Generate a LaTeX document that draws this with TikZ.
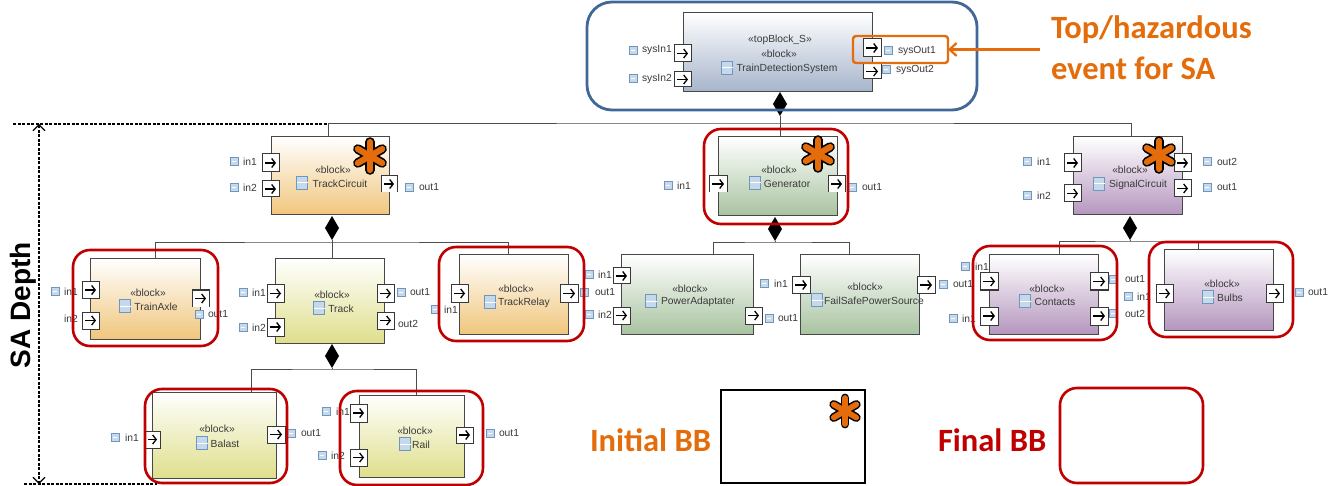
\documentclass[tikz,border=0pt]{standalone}
\usepackage{fontspec}
\setmainfont{Liberation Sans}
\newfontfamily\callout{Carlito}
\usetikzlibrary{arrows.meta,shapes.geometric,calc}
\definecolor{hazor}{HTML}{E46C0A}
\definecolor{bbred}{HTML}{C00000}
\definecolor{sysblue}{HTML}{3F6797}
\definecolor{txtgrey}{HTML}{3A3A3A}
\definecolor{cblue}{HTML}{A6B4CB}
\definecolor{cor}{HTML}{F0C67C}
\definecolor{cgreen}{HTML}{A8C3A0}
\definecolor{cpurple}{HTML}{B596BE}
\definecolor{cyel}{HTML}{DFDF8C}
\definecolor{icline}{HTML}{6E96BE}
\definecolor{icfill}{HTML}{C6D9EA}
\tikzset{
  blockbox/.style={draw=black!72,line width=1pt,inner sep=0pt,outer sep=0pt},
  portbox/.style={draw=black!78,fill=white,line width=1pt,inner sep=0pt,outer sep=0pt},
  portopen/.style={fill=white,inner sep=0pt,outer sep=0pt},
  parrow/.style={line width=1.3pt,-{Straight Barb[length=3.5pt,width=9pt]}},
  conn/.style={draw=black!70,line width=.9pt},
  slab/.style={inner sep=0pt,outer sep=0pt,text=txtgrey,font=\fontsize{10.3}{11}\selectfont},
  ticn/.style={draw=icline,fill=icfill,inner sep=0pt,outer sep=0pt,minimum width=8pt,minimum height=8pt,line width=.7pt},
  bicn/.style={draw=icline,fill=icfill,inner sep=0pt,outer sep=0pt,minimum width=11pt,minimum height=13pt,line width=.7pt},
  redbox/.style={draw=bbred,line width=2.6pt,rounded corners=17pt,inner sep=0pt,outer sep=0pt},
  comp/.style={shape=diamond,fill=black,inner sep=0pt,outer sep=0pt,minimum width=14pt,minimum height=24pt},
  bigtxt/.style={inner sep=0pt,outer sep=0pt,font=\callout\bfseries\fontsize{32.5}{36}\selectfont},
  depth/.style={draw=black,line width=1.1pt,dash pattern=on 3pt off 1.5pt},
}
\newcommand{\blk}[6]{\node[blockbox,top color=white,bottom color=#6,minimum width={(#4-#2)*1pt},minimum height={(#5-#3)*1pt}] (#1) at ({(#2+#4)/2},{(#3+#5)/2}) {};}
\newcommand{\prt}[5]{\node[portbox,minimum width={(#4-#2)*1pt},minimum height={(#5-#3)*1pt}] (#1) at ({(#2+#4)/2},{(#3+#5)/2}) {};
  \draw[parrow] ([xshift=3pt]#1.west) -- ([xshift=-3pt]#1.east);}
\newcommand{\oprt}[5]{\node[portopen,minimum width={(#4-#2)*1pt},minimum height={(#5-#3)*1pt}] (#1) at ({(#2+#4)/2},{(#3+#5)/2}) {};
  \draw[black!78,line width=1pt] (#1.south west) -- (#1.north west) -- (#1.north east) -- (#1.south east);
  \draw[parrow] ([xshift=3pt]#1.west) -- ([xshift=-3pt]#1.east);}
% name, icon x, y, text left, text
\newcommand{\lbl}[5]{\node[ticn] (#1i) at (#2,#3) {};\draw[white,line width=.9pt] ([xshift=-2.4pt]#1i.center) -- ([xshift=2.4pt]#1i.center);
  \node[slab,anchor=west] (#1t) at (#4,{#3+.5}) {#5};}
\newcommand{\lbt}[4]{\node[slab,anchor=west] (#1t) at (#2,#3) {#4};}
% name, stereotype cx, y, icon x, y2, text cx, text
\newcommand{\ttl}[7]{\node[slab] (#1s) at (#2,#3) {«block»};
  \node[bicn] (#1i) at (#4,#5) {};\draw[white,line width=1pt] (#1i.west) -- (#1i.east);
  \node[slab] (#1n) at (#6,{#5+1}) {#7};}
\newcommand{\rbx}[5]{\node[redbox,minimum width={(#4-#2)*1pt},minimum height={(#5-#3)*1pt}] (#1) at ({(#2+#4)/2},{(#3+#5)/2}) {};}
\newcommand{\astar}[4]{\coordinate (#1) at (#2,#3);
  \foreach \a in {90,30,-30}{\draw[black,line width={#4*.68pt},line cap=round] ($(#1)+(\a:#4pt)$) -- ($(#1)+(\a+180:#4pt)$);}
  \foreach \a in {90,30,-30}{\draw[hazor,line width={#4*.44pt},line cap=round] ($(#1)+(\a:#4pt)$) -- ($(#1)+(\a+180:#4pt)$);}}
\begin{document}
\begin{tikzpicture}[x=1pt,y=-1pt]
\useasboundingbox (0,0) rectangle (1338,486);
\fill[white] (0,0) rectangle (1338,486);

% ---------- blocks
\blk{top}{683}{13}{872}{92}{cblue}
\blk{tc}{271}{137}{389}{215}{cor}
\blk{gen}{718}{137}{837}{216}{cgreen}
\blk{sc}{1073}{137}{1182}{215}{cpurple}
\blk{ta}{90}{259}{200}{339}{cor}
\blk{trk}{275}{259}{384}{343}{cyel}
\blk{tr}{459}{255}{568}{334}{cor}
\blk{pa}{621}{255}{753}{334}{cgreen}
\blk{fs}{800}{255}{919}{334}{cgreen}
\blk{con}{989}{255}{1098}{334}{cpurple}
\blk{bul}{1164}{250}{1273}{330}{cpurple}
\blk{bal}{152}{392}{276}{478}{cyel}
\blk{rail}{359}{395}{464}{477}{cyel}

% ---------- composition diamonds and connectors
\node[comp] (d0) at (780,104) {};
\node[comp] (d1) at (332,228) {};
\node[comp] (d2) at (775,229) {};
\node[comp] (d3) at (1130,228) {};
\node[comp] (d4) at (332,356) {};

\coordinate (b0) at (780,123);
\coordinate (b1) at (332,242);
\coordinate (b2) at (775,242);
\coordinate (b3) at (1130,241);
\coordinate (b4) at (332,369);

\coordinate (dtc) at (328,137);
\coordinate (dsc) at (1131,137);
\coordinate (dgen) at (780,137);
\draw[conn] (d0.south) -- (dgen);
\draw[conn] (dtc) |- (b0) -| (dsc);

\coordinate (dta) at (155,259);
\coordinate (dtrk) at (332,259);
\coordinate (dtr) at (508,255);
\draw[conn] (d1.south) -- (dtrk);
\draw[conn] (dta) |- (b1) -| (dtr);

\coordinate (dpa) at (713,255);
\coordinate (dfs) at (849,255);
\draw[conn] (d2.south) -- (b2);
\draw[conn] (dpa) |- (b2) -| (dfs);

\coordinate (dcon) at (1059,255);
\coordinate (dbul) at (1198,250);
\draw[conn] (d3.south) -- (b3);
\draw[conn] (dcon) |- (b3) -| (dbul);

\coordinate (dbal) at (251,392);
\coordinate (drail) at (416,395);
\draw[conn] (d4.south) -- (b4);
\draw[conn] (dbal) |- (b4) -| (drail);

% ---------- block titles
\node[slab] (tops) at (780,40) {«topBlock\_S»};
\node[slab] (tops2) at (779,54) {«block»};
\node[bicn] (topi) at (727,68) {};\draw[white,line width=1pt] (topi.west) -- (topi.east);
\node[slab] (topn) at (787,69) {TrainDetectionSystem};
\ttl{tc}{333}{170}{302}{183}{340}{TrackCircuit}
\ttl{gen}{779}{170}{755}{183}{787}{Generator}
\ttl{sc}{1130}{170}{1099}{184}{1138}{SignalCircuit}
\ttl{ta}{148}{293}{125}{306}{156}{TrainAxle}
\ttl{trk}{332}{295}{319}{308}{341}{Track}
\ttl{tr}{516}{289}{490}{302}{524}{TrackRelay}
\ttl{pa}{690}{289}{651}{301}{698}{PowerAdaptater}
\ttl{fs}{865}{287}{817}{300}{874}{FailSafePowerSource}
\ttl{con}{1047}{289}{1025}{301}{1055}{Contacts}
\ttl{bul}{1222}{284}{1208}{297}{1230}{Bulbs}
\ttl{bal}{217}{429}{202}{443}{225}{Balast}
\ttl{rail}{415}{431}{405}{444}{421}{Rail}

% ---------- port labels
\lbl{l01}{633}{50}{642}{sysIn1}
\lbl{l02}{633}{78}{642}{sysIn2}
\lbl{l03}{888}{50}{898}{sysOut1}
\lbl{l04}{886}{69}{896}{sysOut2}
\lbl{l05}{234}{161}{243}{in1}
\lbl{l06}{234}{187}{243}{in2}
\lbl{l07}{409}{187}{419}{out1}
\lbl{l08}{668}{185}{677}{in1}
\lbl{l09}{852}{187}{862}{out1}
\lbl{l10}{1027}{161}{1037}{in1}
\lbl{l11}{1027}{195}{1037}{in2}
\lbl{l12}{1207}{161}{1217}{out2}
\lbl{l13}{1207}{187}{1217}{out1}
\lbl{l14}{55}{291}{64}{in1}
\lbt{l15}{64}{319}{in2}
\lbl{l16}{199}{314}{208}{out1}
\lbl{l17}{243}{292}{252}{in1}
\lbl{l18}{243}{327}{252}{in2}
\lbl{l19}{401}{292}{410}{out1}
\lbt{l20}{398}{324}{out2}
\lbl{l21}{435}{309}{444}{in1}
\lbl{l22}{584}{292}{595}{out1}
\lbl{l23}{589}{274}{598}{in1}
\lbl{l24}{589}{314}{598}{in2}
\lbl{l25}{769}{318}{778}{out1}
\lbl{l26}{764}{283}{774}{in1}
\lbl{l27}{943}{284}{953}{out1}
\lbl{l28}{965}{266}{975}{in1}
\lbl{l29}{953}{318}{962}{in1}
\lbl{l30}{1113}{279}{1125}{out1}
\lbl{l31}{1113}{313}{1125}{out2}
\lbl{l32}{1128}{296}{1137}{in1}
\lbl{l33}{1299}{292}{1308}{out1}
\lbl{l34}{115}{437}{125}{in1}
\lbl{l35}{291}{433}{301}{out1}
\lbl{l36}{326}{411}{336}{in1}
\lbl{l37}{322}{455}{331}{in2}
\lbl{l38}{490}{433}{499}{out1}

% ---------- ports
\prt{p01}{674}{45}{691}{62}
\prt{p02}{674}{72}{691}{87}
\prt{p03}{863}{39}{881}{57}
\prt{p04}{863}{64}{881}{79}
\prt{p05}{262}{154}{279}{172}
\prt{p06}{262}{181}{279}{197}
\oprt{p07}{381}{176}{397}{192}
\oprt{p08}{709}{176}{727}{192}
\oprt{p09}{828}{176}{845}{192}
\prt{p10}{1064}{154}{1081}{172}
\prt{p11}{1064}{185}{1081}{202}
\prt{p12}{1174}{154}{1191}{172}
\prt{p13}{1174}{180}{1191}{197}
\prt{p14}{82}{282}{99}{298}
\prt{p15}{82}{312}{99}{329}
\oprt{p16}{192}{290}{209}{307}
\prt{p17}{267}{285}{284}{302}
\prt{p18}{267}{318}{284}{336}
\prt{p19}{377}{285}{394}{302}
\prt{p20}{377}{312}{394}{329}
\prt{p21}{451}{285}{468}{302}
\prt{p22}{560}{285}{578}{302}
\prt{p23}{613}{268}{630}{284}
\prt{p24}{613}{307}{630}{324}
\prt{p25}{745}{307}{762}{324}
\prt{p26}{792}{277}{810}{293}
\prt{p27}{917}{277}{935}{293}
\prt{p28}{980}{273}{998}{290}
\prt{p29}{980}{307}{998}{325}
\prt{p30}{1090}{273}{1108}{290}
\prt{p31}{1090}{307}{1108}{325}
\prt{p32}{1156}{285}{1173}{302}
\prt{p33}{1266}{285}{1283}{302}
\prt{p34}{145}{431}{160}{448}
\prt{p35}{267}{426}{285}{443}
\prt{p36}{350}{404}{367}{422}
\prt{p37}{350}{449}{367}{466}
\prt{p38}{456}{427}{473}{443}

% ---------- asterisks
\astar{s1}{370}{156}{14}
\astar{s2}{818}{154}{14}
\astar{s3}{1159}{155}{14}

% ---------- bounding outlines
\node[draw=sysblue,line width=2.8pt,rounded corners=25pt,inner sep=0pt,outer sep=0pt,minimum width=390pt,minimum height=108pt] (sa) at (782,56) {};
\rbx{r1}{704}{129}{848}{224}
\rbx{r2}{73}{250}{218}{346}
\rbx{r3}{439}{247}{584}{341}
\rbx{r4}{973}{246}{1117}{340}
\rbx{r5}{1149}{242}{1293}{337}
\rbx{r6}{145}{389}{287}{483}
\rbx{r7}{340}{391}{483}{485}

% ---------- top event callout
\node[draw=hazor,line width=2.4pt,rounded corners=3pt,inner sep=0pt,outer sep=0pt,minimum width=95pt,minimum height=27pt] (haz) at (900.5,49.5) {};
\coordinate (hazend) at (1040,49.5);
\draw[hazor,line width=2.2pt,-{Straight Barb[length=7pt,width=13pt]}] (hazend) -- (haz.east);
\node[bigtxt,text=hazor,anchor=west] (h1) at (1051,30) {Top/hazardous};
\node[bigtxt,text=hazor,anchor=west] (h2) at (1051,68) {event for SA};

% ---------- SA depth
\coordinate (dl1) at (13,124);
\coordinate (dl2) at (24,484);
\coordinate (dl3) at (157,484);
\coordinate (da1) at (39,124);
\coordinate (da2) at (39,484);
\draw[depth] (dl1) -- (dtc |- dl1);
\draw[depth] (dl2) -- (dl3);
\draw[depth,{Straight Barb[length=6pt,width=12pt]}-{Straight Barb[length=6pt,width=12pt]}] (da1) -- (da2);
\node[rotate=90,inner sep=0pt,outer sep=0pt,font=\bfseries\fontsize{28}{32}\selectfont] (sad) at (23,305) {SA Depth};

% ---------- legend
\node[bigtxt,text=hazor,anchor=west] (li) at (590,440) {Initial BB};
\node[draw=black,line width=1.6pt,inner sep=0pt,outer sep=0pt,minimum width=144pt,minimum height=93pt] (lb1) at (793,436.5) {};
\astar{s4}{845}{411}{13}
\node[bigtxt,text=bbred,anchor=west] (lf) at (938,440) {Final BB};
\rbx{lb2}{1060}{388}{1203}{483}
\end{tikzpicture}
\end{document}
